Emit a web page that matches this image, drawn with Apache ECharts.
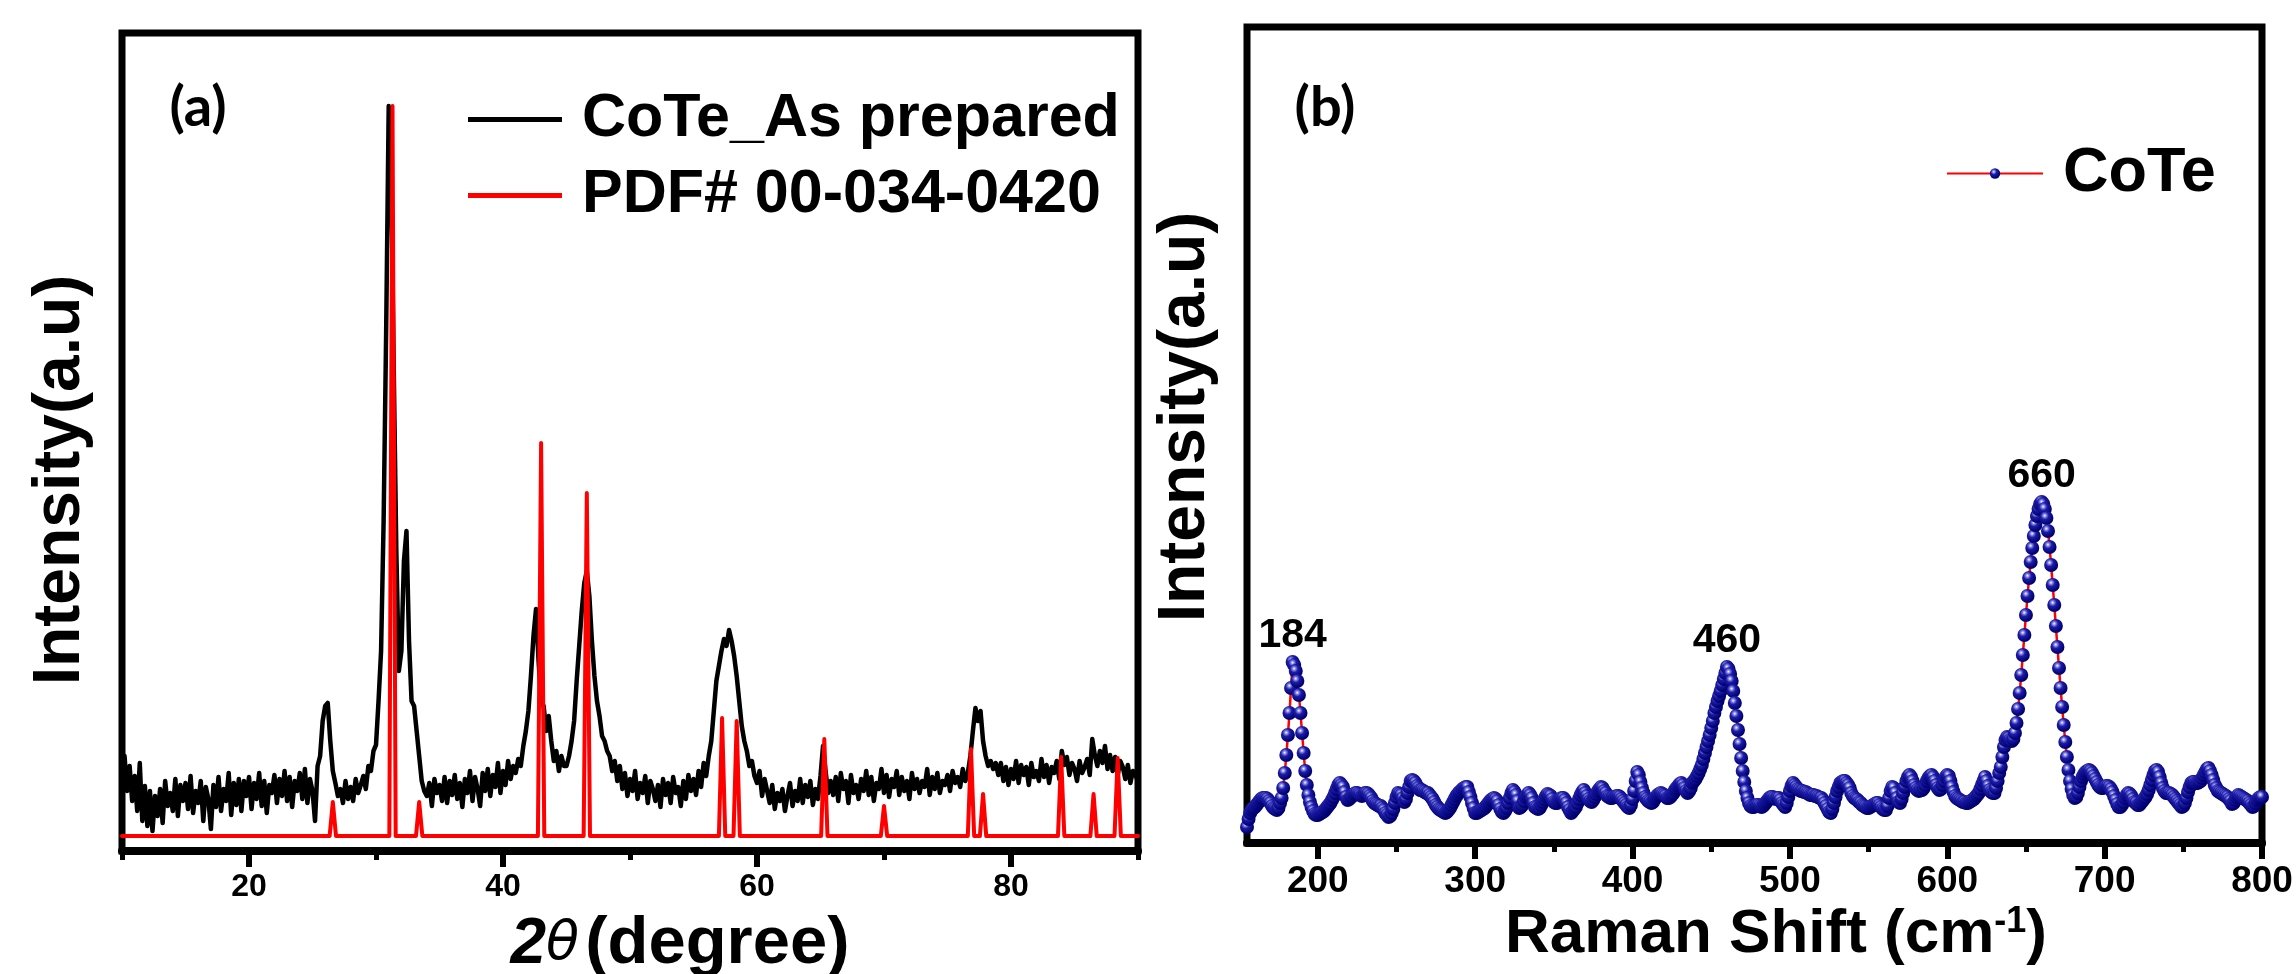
<!DOCTYPE html>
<html>
<head>
<meta charset="utf-8">
<title>CoTe XRD and Raman</title>
<script src="https://cdn.jsdelivr.net/npm/echarts@6/dist/echarts.min.js"></script>
<style>
  html, body { margin: 0; padding: 0; background: #ffffff; }
  #chart { width: 2296px; height: 974px; }
</style>
</head>
<body>
<div id="chart"></div>
<script>
// ---- (a) XRD pattern of as-prepared CoTe, sampled every 0.2 degree from 10 to 90 ----
const xrdStart = 10;
const xrdStep = 0.2;
const xrdIntensity = [
  70, 95, 60, 85, 50,   75, 40, 88, 30, 65,   25, 60, 20, 55, 35,   62, 28, 70, 45, 58,
  40, 72, 35, 66, 50,   68, 42, 75, 38, 60,   48, 70, 30, 64, 52,   22, 66, 44, 74, 40,
  62, 50, 78, 36, 68,   46, 72, 40, 70, 55,   74, 42, 68, 52, 78,   45, 70, 38, 66, 58,
  76, 48, 72, 55, 80,   50, 74, 44, 70, 60,   78, 52, 82, 48, 72,   60, 30, 85, 95, 130,
  145, 148, 110, 80, 68, 55, 62, 48, 70, 52,  64, 50, 72, 58, 66,   75, 62, 85, 80, 100,
  106, 150, 200, 330, 520, 745, 680, 480, 300, 180, 200, 290, 320, 210, 150, 145, 120, 95, 70, 60,
  55, 68, 45, 72, 58,   66, 50, 74, 48, 70,   56, 76, 52, 68, 44,   72, 58, 80, 50, 74,
  62, 45, 78, 60, 82,   55, 76, 64, 88, 58,   80, 66, 90, 72, 85,   78, 92, 85, 105, 120,
  140, 175, 215, 242, 190, 150, 145, 120, 135, 110, 90, 100, 80, 95, 85, 85, 95, 110, 130, 170,
  205, 240, 268, 280, 255, 210, 175, 150, 135, 115, 110, 100, 95, 80, 90, 70, 85, 62, 78, 55,
  72, 60, 80, 52, 68,   58, 75, 48, 70, 62,   50, 66, 44, 72, 56,   68, 48, 74, 58, 64,
  45, 70, 52, 76, 60,   72, 56, 80, 64, 88,   75, 95, 110, 140, 170, 185, 200, 212, 205, 221,
  210, 195, 175, 150, 125, 110, 100, 85, 90, 75, 68, 80, 55, 72, 60,  48, 66, 42, 58, 50,
  62, 40, 55, 68, 45,   60, 50, 72, 48, 66,   54, 70, 46, 62, 52,   75, 105, 80, 58, 70,
  56, 74, 50, 78, 62,   70, 48, 76, 58, 66,   52, 72, 60, 80, 56,   74, 50, 68, 62, 82,
  58, 76, 54, 72, 64,   80, 56, 74, 60, 70,   52, 78, 62, 72, 58,   70, 64, 82, 56, 74,
  62, 78, 58, 70, 66,   76, 60, 80, 68, 74,   64, 82, 70, 78, 95,   120, 143, 130, 140, 110,
  95, 85, 90, 82, 88,   76, 88, 70, 84, 66,   82, 72, 90, 68, 86,   76, 84, 66, 88, 74,
  80, 70, 92, 74, 86,   68, 84, 78, 90, 72,   100, 86, 94, 76, 88,  82, 70, 90, 78, 84,
  92, 76, 112, 96, 85,  100, 88, 105, 82, 96,  80, 94, 76, 90, 84,  72, 86, 68, 80, 76,
  70
];

// Reference pattern PDF# 00-034-0420: stick positions (degree) and heights
const pdfPeakPos    = [26.6, 31.3, 33.4, 43.0, 46.6, 57.25, 58.4, 65.3, 70.0, 76.85, 77.8, 83.95, 86.5, 88.4];
const pdfPeakHeight = [49,   745,  49,   408,  358,  133,   130,  112,  45,   102,   57,   94,    57,   93];
const pdfBaseline = 15;
const pdfHalfWidth = 0.25;

const xrdMajorTicks = [20, 40, 60, 80];
const xrdMinorTicks = [10, 30, 50, 70, 90];

// ---- (b) Raman spectrum of CoTe, sampled every 1 cm-1 from 155 to 800 ----
const ramanStart = 155;
const ramanStep = 1;
const ramanIntensity = [
  16, 24, 30, 33, 35, 36, 38, 40, 42, 44,
  45, 45, 45, 44, 42, 40, 37, 35, 34, 33,
  35, 40, 45, 55, 70, 88, 108, 130, 155, 181,
  178, 172, 162, 148, 130, 110, 90, 72, 58, 48,
  41, 36, 32, 29, 28, 28, 29, 30, 31, 32,
  34, 36, 38, 40, 43, 46, 50, 54, 58, 60,
  58, 56, 51, 46, 43, 44, 46, 47, 49, 50,
  50, 49, 48, 47, 48, 50, 50, 49, 47, 45,
  42, 40, 39, 38, 37, 37, 35, 33, 30, 28,
  26, 27, 30, 34, 40, 46, 50, 49, 48, 45,
  41, 44, 50, 56, 62, 63, 62, 60, 57, 55,
  53, 53, 52, 51, 50, 50, 48, 46, 44, 41,
  38, 36, 34, 33, 32, 31, 30, 31, 33, 35,
  38, 41, 44, 47, 49, 51, 52, 54, 55, 56,
  56, 51, 46, 40, 35, 30, 30, 31, 32, 33,
  34, 35, 37, 39, 41, 43, 44, 45, 44, 42,
  38, 34, 31, 30, 32, 35, 40, 45, 50, 53,
  51, 48, 42, 35, 36, 38, 42, 46, 48, 50,
  48, 45, 40, 36, 35, 34, 35, 38, 41, 44,
  47, 49, 48, 47, 44, 41, 40, 40, 42, 44,
  45, 45, 43, 40, 36, 33, 30, 32, 34, 36,
  40, 44, 48, 51, 53, 50, 47, 44, 42, 41,
  43, 46, 49, 52, 54, 56, 55, 52, 50, 47,
  46, 45, 45, 46, 46, 47, 47, 46, 44, 42,
  40, 38, 36, 35, 38, 44, 52, 62, 71, 68,
  61, 55, 50, 46, 44, 42, 41, 40, 41, 44,
  46, 48, 49, 50, 49, 48, 47, 45, 45, 46,
  48, 50, 53, 55, 57, 59, 60, 58, 55, 52,
  50, 52, 55, 60, 62, 64, 67, 70, 74, 78,
  84, 90, 96, 102, 108, 115, 122, 130, 136, 142,
  147, 152, 158, 164, 170, 176, 174, 169, 162, 152,
  140, 127, 113, 99, 85, 72, 61, 52, 45, 40,
  37, 36, 36, 37, 38, 38, 37, 36, 37, 39,
  41, 43, 45, 46, 46, 45, 44, 45, 45, 43,
  40, 38, 36, 40, 46, 52, 57, 60, 58, 56,
  54, 53, 52, 52, 51, 51, 50, 49, 48, 48,
  48, 47, 47, 46, 45, 45, 43, 40, 37, 34,
  31, 30, 34, 40, 46, 52, 56, 60, 61, 62,
  62, 60, 58, 55, 50, 47, 45, 44, 43, 41,
  40, 38, 37, 36, 35, 35, 36, 37, 38, 39,
  40, 40, 38, 36, 34, 33, 33, 37, 45, 52,
  56, 55, 50, 45, 41, 40, 44, 50, 56, 62,
  66, 68, 66, 62, 58, 55, 53, 52, 53, 53,
  55, 58, 62, 65, 67, 68, 66, 62, 58, 55,
  53, 54, 58, 62, 66, 68, 67, 62, 56, 51,
  47, 45, 44, 43, 42, 41, 41, 40, 40, 41,
  42, 43, 44, 46, 48, 50, 54, 58, 62, 66,
  62, 57, 53, 51, 50, 50, 55, 62, 70, 76,
  86, 96, 103, 106, 105, 103, 102, 104, 110, 120,
  134, 150, 168, 188, 208, 228, 247, 265, 281, 295,
  307, 318, 327, 334, 339, 341, 339, 334, 325, 312,
  296, 278, 258, 238, 217, 196, 175, 155, 136, 118,
  101, 86, 73, 62, 54, 48, 45, 46, 50, 56,
  62, 66, 69, 71, 72, 73, 72, 70, 67, 64,
  61, 58, 56, 55, 55, 56, 57, 57, 56, 54,
  51, 47, 43, 39, 36, 36, 38, 41, 45, 48,
  50, 49, 47, 44, 41, 40, 38, 38, 40, 42,
  44, 46, 49, 53, 58, 63, 68, 72, 73, 71,
  66, 60, 55, 52, 50, 50, 50, 49, 48, 46,
  44, 42, 40, 38, 36, 37, 40, 45, 51, 56,
  60, 61, 61, 60, 60, 61, 62, 65, 68, 71,
  74, 75, 72, 68, 63, 58, 55, 52, 51, 50,
  49, 48, 47, 46, 44, 42, 39, 40, 43, 46,
  48, 47, 46, 45, 44, 43, 42, 40, 38, 36,
  37, 40, 43, 45, 46, 46
];
const ramanPeakLabels = [184, 460, 660];
const ramanMajorTicks = [200, 300, 400, 500, 600, 700, 800];
const ramanMinorTicks = [250, 350, 450, 550, 650, 750];

// ---- series data built from the arrays above ----
const xrdData = xrdIntensity.map((v, i) => [+(xrdStart + i * xrdStep).toFixed(2), v]);

const pdfData = [[10, pdfBaseline]];
pdfPeakPos.forEach((p, i) => {
  pdfData.push([p - pdfHalfWidth, pdfBaseline]);
  pdfData.push([p, pdfPeakHeight[i]]);
  pdfData.push([p + pdfHalfWidth, pdfBaseline]);
});
pdfData.push([90, pdfBaseline]);

const ramanData = ramanIntensity.map((v, i) => [ramanStart + i * ramanStep, v]);
const ramanLabelPoints = ramanPeakLabels.map(v => ({
  coord: [v, ramanIntensity[(v - ramanStart) / ramanStep]],
  value: v
}));

const SANS = '"Liberation Sans", Arial, sans-serif';
// shaded ball used for every Raman point
const sphere = {
  type: 'radial', x: 0.38, y: 0.33, r: 0.62,
  colorStops: [
    { offset: 0, color: '#ffffff' },
    { offset: 0.18, color: '#8c8ce6' },
    { offset: 0.45, color: '#1c1ca8' },
    { offset: 1, color: '#000070' }
  ]
};

function frameAxisX(grid, min, max, ticks, labelSize) {
  return {
    type: 'value', gridIndex: grid, min: min, max: max, position: 'bottom',
    axisLine: { show: true, onZero: false, lineStyle: { color: '#000', width: 8 } },
    axisTick: { show: true, customValues: ticks, length: 16, lineStyle: { color: '#000', width: 6 } },
    axisLabel: { show: true, customValues: ticks, color: '#000', fontFamily: SANS,
                 fontWeight: 'bold', fontSize: labelSize, margin: 20 },
    splitLine: { show: false }
  };
}
function minorAxisX(grid, min, max, ticks) {
  return {
    type: 'value', gridIndex: grid, min: min, max: max, position: 'bottom',
    axisLine: { show: false, onZero: false },
    axisTick: { show: true, customValues: ticks, length: 9, lineStyle: { color: '#000', width: 5 } },
    axisLabel: { show: false },
    splitLine: { show: false }
  };
}
function hiddenY(grid, max) {
  return {
    type: 'value', gridIndex: grid, min: 0, max: max,
    axisLine: { show: false }, axisTick: { show: false },
    axisLabel: { show: false }, splitLine: { show: false }
  };
}
function plainText(x, y, text, font, rotation) {
  return { type: 'text', x: x, y: y, rotation: rotation || 0, style: {
    text: text, font: font, fill: '#000',
    textAlign: 'center', textVerticalAlign: 'middle', align: 'center', verticalAlign: 'middle' } };
}

const chart = echarts.init(document.getElementById('chart'), null, { renderer: 'canvas' });

chart.setOption({
  animation: false,
  backgroundColor: '#ffffff',
  grid: [
    { left: 122, top: 33, width: 1016, height: 818, show: true, borderColor: '#000', borderWidth: 7, backgroundColor: 'transparent' },
    { left: 1247, top: 27, width: 1015, height: 816, show: true, borderColor: '#000', borderWidth: 7, backgroundColor: 'transparent' }
  ],
  xAxis: [
    frameAxisX(0, 10, 90, xrdMajorTicks, 32),
    minorAxisX(0, 10, 90, xrdMinorTicks),
    frameAxisX(1, 155, 800, ramanMajorTicks, 37),
    minorAxisX(1, 155, 800, ramanMinorTicks)
  ],
  yAxis: [hiddenY(0, 818), hiddenY(1, 816)],
  legend: [
    {
      orient: 'vertical', left: 463, top: 84,
      itemWidth: 94, itemHeight: 5, itemGap: 15,
      data: [
        { name: 'CoTe_As prepared', icon: 'rect' },
        { name: 'PDF# 00-034-0420', icon: 'rect' }
      ],
      textStyle: { color: '#000', fontFamily: SANS, fontWeight: 'bold', fontSize: 61,
                   lineHeight: 60, padding: [0, 0, 0, 15] }
    },
    {
      orient: 'vertical', left: 1941, top: 137,
      itemWidth: 96, itemHeight: 13,
      data: [{ name: 'CoTe' }],
      textStyle: { color: '#000', fontFamily: SANS, fontWeight: 'bold', fontSize: 63,
                   lineHeight: 62, padding: [0, 0, 0, 15] }
    }
  ],
  series: [
    {
      name: 'CoTe_As prepared', type: 'line', xAxisIndex: 0, yAxisIndex: 0,
      data: xrdData, showSymbol: false, symbol: 'none',
      itemStyle: { color: '#000' },
      lineStyle: { color: '#000', width: 4.5, join: 'round' },
      z: 2
    },
    {
      name: 'PDF# 00-034-0420', type: 'line', xAxisIndex: 0, yAxisIndex: 0,
      data: pdfData, showSymbol: false, symbol: 'none',
      itemStyle: { color: '#ff0000' },
      lineStyle: { color: '#ff0000', width: 4, join: 'round', cap: 'round' },
      z: 3
    },
    {
      name: 'CoTe', type: 'line', xAxisIndex: 2, yAxisIndex: 1,
      data: ramanData, symbol: 'circle', symbolSize: 14, showAllSymbol: true,
      itemStyle: { color: sphere, borderWidth: 0 },
      lineStyle: { color: '#ff0000', width: 2.5 },
      markPoint: {
        symbol: 'circle', symbolSize: 1,
        itemStyle: { color: 'transparent' },
        label: { show: true, position: 'top', distance: 5, formatter: '{c}',
                 color: '#000', fontFamily: SANS, fontWeight: 'bold', fontSize: 41 },
        data: ramanLabelPoints
      },
      z: 3
    }
  ],
  graphic: [
    plainText(198, 108, '(a)', 'bold 56px Lato, "Open Sans", sans-serif'),
    plainText(1325, 108, '(b)', 'bold 56px Lato, "Open Sans", sans-serif'),
    plainText(61, 480, 'Intensity(a.u)', 'bold 66px "Liberation Sans", Arial, sans-serif', Math.PI / 2),
    plainText(1186, 417, 'Intensity(a.u)', 'bold 66px "Liberation Sans", Arial, sans-serif', Math.PI / 2),
    { type: 'text', x: 680, y: 945, style: {
      text: '{n|2}{t|θ}{d|(degree)}', fill: '#000',
      textAlign: 'center', textVerticalAlign: 'middle', align: 'center', verticalAlign: 'middle',
      rich: {
        n: { fontFamily: SANS, fontWeight: 'bold', fontStyle: 'italic', fontSize: 64, fill: '#000' },
        t: { fontFamily: '"DejaVu Sans", sans-serif', fontStyle: 'italic', fontSize: 54, fill: '#000', padding: [0, 6, 0, 0] },
        d: { fontFamily: SANS, fontWeight: 'bold', fontSize: 67, fill: '#000' }
      } } },
    { type: 'text', x: 1776, y: 935, style: {
      text: '{m|Raman Shift (cm}{s|-1}{m|)}', fill: '#000',
      textAlign: 'center', textVerticalAlign: 'middle', align: 'center', verticalAlign: 'middle',
      rich: {
        m: { fontFamily: SANS, fontWeight: 'bold', fontSize: 62, fill: '#000' },
        s: { fontFamily: SANS, fontWeight: 'bold', fontSize: 36, fill: '#000', verticalAlign: 'top', padding: [0, 0, 24, 0] }
      } } }
  ]
});
</script>
</body>
</html>
